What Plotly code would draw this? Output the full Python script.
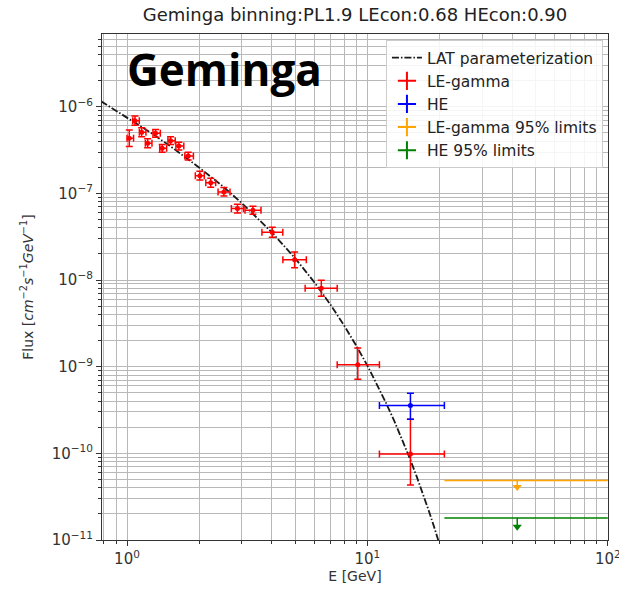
import plotly.graph_objects as go

# ---- LE-gamma flux points (E in GeV, flux in cm^-2 s^-1 GeV^-1) ----
le_E = [1.022, 1.079, 1.151, 1.219, 1.315, 1.401, 1.518, 1.643, 1.797, 2.01,
        2.23, 2.53, 2.88, 3.34, 4.02, 4.98, 6.43, 9.12, 15.1]
le_E_lo = [1.000, 1.056, 1.126, 1.192, 1.282, 1.368, 1.480, 1.597, 1.740, 1.924,
           2.127, 2.392, 2.717, 3.096, 3.641, 4.451, 5.508, 7.487, 11.22]
le_E_hi = [1.065, 1.125, 1.199, 1.270, 1.376, 1.462, 1.587, 1.723, 1.889, 2.096,
           2.338, 2.682, 3.050, 3.609, 4.447, 5.570, 7.487, 11.22, 20.9]
le_F = [4.32e-7, 6.9e-7, 5.07e-7, 3.79e-7, 4.93e-7, 3.31e-7, 4.06e-7, 3.52e-7, 2.70e-7, 1.60e-7,
        1.33e-7, 1.04e-7, 6.67e-8, 6.38e-8, 3.56e-8, 1.71e-8, 8.04e-9, 1.05e-9, 9.8e-11]
le_F_lo = [3.47e-7, 6.12e-7, 4.49e-7, 3.36e-7, 4.44e-7, 2.98e-7, 3.66e-7, 3.17e-7, 2.43e-7, 1.43e-7,
           1.18e-7, 9.3e-8, 5.95e-8, 5.75e-8, 3.11e-8, 1.39e-8, 6.51e-9, 7.17e-10, 4.3e-11]
le_F_hi = [5.37e-7, 7.8e-7, 5.71e-7, 4.28e-7, 5.47e-7, 3.67e-7, 4.5e-7, 3.9e-7, 2.99e-7, 1.80e-7,
           1.49e-7, 1.17e-7, 7.48e-8, 7.08e-8, 4.07e-8, 2.10e-8, 9.93e-9, 1.64e-9, 2.48e-10]

# ---- HE flux point ----
he_E = [15.1]
he_E_lo = [11.22]
he_E_hi = [20.9]
he_F = [3.56e-10]
he_F_lo = [2.48e-10]
he_F_hi = [4.94e-10]

# ---- 95% upper limits ----
le_ul_E = [42.0]
le_ul_E_lo = [20.9]
le_ul_E_hi = [100.0]
le_ul_F = [4.85e-11]
le_ul_arrow = [4.1e-11]

he_ul_E = [42.0]
he_ul_E_lo = [20.9]
he_ul_E_hi = [100.0]
he_ul_F = [1.79e-11]
he_ul_arrow = [1.42e-11]

# ---- LAT catalogue parameterization, sampled ----
lat_E = [0.78, 1.0, 1.25, 1.5, 2.0, 2.5, 3.0, 4.0, 5.0, 6.0, 7.0, 8.0, 9.0, 10.0,
         11.0, 12.0, 13.0, 14.0, 15.0, 16.0, 17.0, 18.0, 19.0, 20.0, 21.0]
lat_F = [1.156e-6, 7.55e-7, 5.05e-7, 3.57e-7, 1.98e-7, 1.21e-7, 7.75e-8, 3.56e-8, 1.79e-8, 9.52e-9,
         5.26e-9, 2.99e-9, 1.74e-9, 1.03e-9, 6.17e-10, 3.73e-10, 2.29e-10, 1.41e-10, 8.78e-11,
         5.49e-11, 3.45e-11, 2.18e-11, 1.38e-11, 8.83e-12, 5.64e-12]

# ---- axis ticks ----
x_decades = [1, 10, 100]
x_ticktext = ["10<sup>0</sup>", "10<sup>1</sup>", "10<sup>2</sup>"]
y_decades = [1e-11, 1e-10, 1e-9, 1e-8, 1e-7, 1e-6]
y_ticktext = ["10<sup>\u221211</sup>", "10<sup>\u221210</sup>", "10<sup>\u22129</sup>",
              "10<sup>\u22128</sup>", "10<sup>\u22127</sup>", "10<sup>\u22126</sup>"]
x_minor = [0.8, 0.9] + [m * d for d in (1, 10) for m in range(2, 10)]
y_minor = [m * d for d in (1e-11, 1e-10, 1e-9, 1e-8, 1e-7, 1e-6) for m in range(2, 10)]


def diff_hi(hi, v):
    return [h - c for h, c in zip(hi, v)]


def diff_lo(lo, v):
    return [c - l for l, c in zip(lo, v)]


FONT = "DejaVu Sans"
fig = go.Figure()

# model curve
fig.add_trace(go.Scatter(
    x=lat_E, y=lat_F, mode="lines", name="LAT parameterization",
    line=dict(color="#1a1a1a", width=1.8, dash="7px,2px,1.5px,2px"),
))


def point_trace(E, Elo, Ehi, F, Flo, Fhi, color):
    return go.Scatter(
        x=E, y=F, mode="markers", showlegend=False,
        marker=dict(color=color, size=5),
        error_x=dict(type="data", symmetric=False, array=diff_hi(Ehi, E),
                     arrayminus=diff_lo(Elo, E), color=color, thickness=1.5, width=3.5),
        error_y=dict(type="data", symmetric=False, array=diff_hi(Fhi, F),
                     arrayminus=diff_lo(Flo, F), color=color, thickness=1.5, width=3.5),
    )


fig.add_trace(point_trace(le_E, le_E_lo, le_E_hi, le_F, le_F_lo, le_F_hi, "#ff0000"))
fig.add_trace(point_trace(he_E, he_E_lo, he_E_hi, he_F, he_F_lo, he_F_hi, "#0000ff"))


def limit_traces(E, Elo, Ehi, F, arrow, color):
    bar = go.Scatter(
        x=E, y=F, mode="markers", showlegend=False,
        marker=dict(color=color, size=1, opacity=0),
        error_x=dict(type="data", symmetric=False, array=diff_hi(Ehi, E),
                     arrayminus=diff_lo(Elo, E), color=color, thickness=1.5, width=0),
        error_y=dict(type="data", symmetric=False, array=[0] * len(F),
                     arrayminus=diff_lo(arrow, F), color=color, thickness=1.5, width=0),
    )
    head = go.Scatter(
        x=E, y=arrow, mode="markers", showlegend=False,
        marker=dict(color=color, size=8, symbol="triangle-down"),
    )
    return [bar, head]


for t in limit_traces(le_ul_E, le_ul_E_lo, le_ul_E_hi, le_ul_F, le_ul_arrow, "#ffa500"):
    fig.add_trace(t)
for t in limit_traces(he_ul_E, he_ul_E_lo, he_ul_E_hi, he_ul_F, he_ul_arrow, "#008000"):
    fig.add_trace(t)

# legend entries for the point series
for name, color in [("LE-gamma", "#ff0000"), ("HE", "#0000ff"),
                    ("LE-gamma 95% limits", "#ffa500"), ("HE 95% limits", "#008000")]:
    fig.add_trace(go.Scatter(
        x=[None], y=[None], mode="markers", name=name,
        marker=dict(symbol="cross-thin", size=13, line=dict(color=color, width=2)),
    ))

axis_common = dict(
    type="log", showline=True, mirror=True, linecolor="#333333", linewidth=1.2,
    ticks="outside", ticklen=5, tickcolor="#333333", automargin=False,
    showgrid=True, gridcolor="#b8b8b8", gridwidth=1, zeroline=False,
    tickfont=dict(family=FONT, size=15, color="#333333"),
)

fig.update_xaxes(
    **axis_common, range=[-0.104, 2.0008], tickmode="array", tickvals=x_decades, ticktext=x_ticktext,
    ticklabeloverflow="allow",
    minor=dict(tickmode="array", tickvals=x_minor, ticks="outside", ticklen=3,
               tickcolor="#333333", showgrid=True, gridcolor="#b8b8b8", gridwidth=1),
    title=dict(text="E [GeV]", font=dict(family=FONT, size=14, color="#333333"), standoff=3),
)
fig.update_yaxes(
    **axis_common, range=[-11, -5.161], tickmode="array", tickvals=y_decades, ticktext=y_ticktext,
    minor=dict(tickmode="array", tickvals=y_minor, ticks="outside", ticklen=3,
               tickcolor="#333333", showgrid=True, gridcolor="#b8b8b8", gridwidth=1),
    title=dict(text="Flux [<i>cm</i><sup>\u22122</sup><i>s</i><sup>\u22121</sup><i>GeV</i><sup>\u22121</sup>]",
               font=dict(family=FONT, size=14, color="#333333"), standoff=14),
)

fig.add_annotation(
    text="<b>Geminga</b>", xref="paper", yref="paper", x=0.045, y=0.994,
    xanchor="left", yanchor="top", showarrow=False,
    font=dict(family="Open Sans", size=44, color="#000000"),
)

fig.update_layout(
    width=619, height=598,
    margin=dict(l=102, r=11, t=34, b=58),
    paper_bgcolor="white", plot_bgcolor="white",
    title=dict(text="Geminga binning:PL1.9 LEcon:0.68 HEcon:0.90", x=0.5, xref="paper",
               y=1 - 15 / 598, yref="container", yanchor="middle",
               font=dict(family=FONT, size=18, color="#222222")),
    legend=dict(x=0.99, y=0.988, xanchor="right", yanchor="top",
                bgcolor="rgba(255,255,255,0.85)", bordercolor="#cccccc", borderwidth=1,
                font=dict(family=FONT, size=15.5, color="#222222"), tracegroupgap=0),
)

fig.write_html("out.html")
